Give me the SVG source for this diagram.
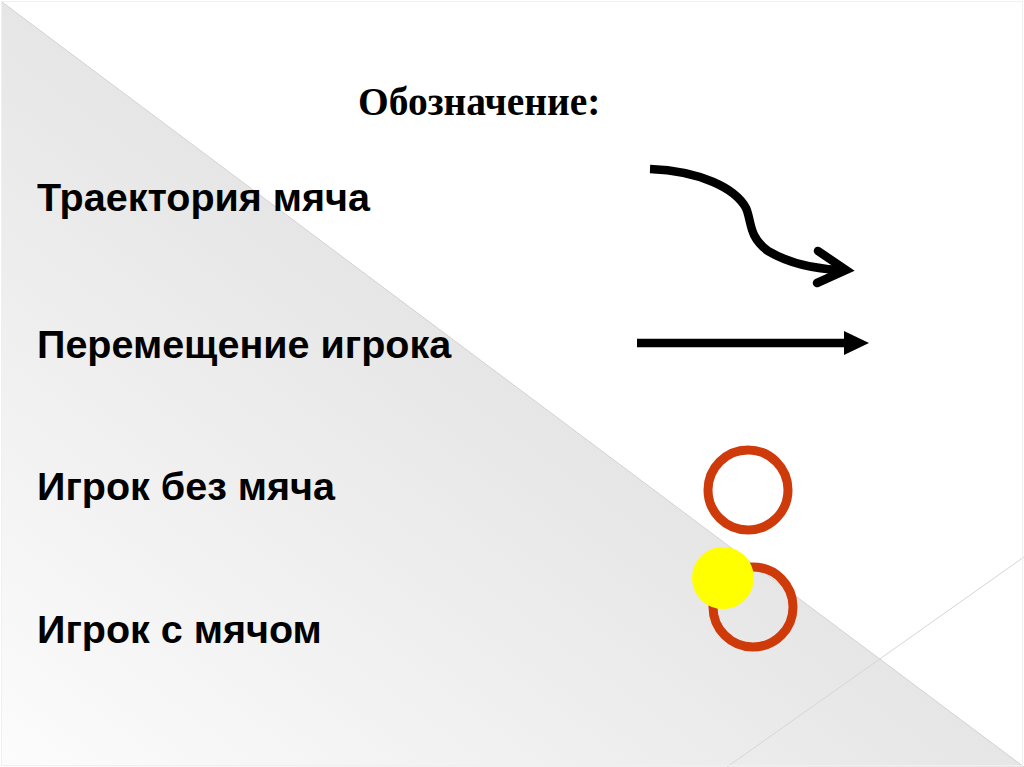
<svg xmlns="http://www.w3.org/2000/svg" width="1024" height="767" viewBox="0 0 1024 767">
  <defs>
    <linearGradient id="bg" gradientUnits="userSpaceOnUse" x1="0" y1="767" x2="368" y2="276">
      <stop offset="0" stop-color="#fcfcfc"/>
      <stop offset="1" stop-color="#e6e6e6"/>
    </linearGradient>
    <style>
      .lbl { font-family: "Liberation Sans", Arial, sans-serif; font-weight: bold; font-size: 39.5px; fill: #000; }
      .ttl { font-family: "Liberation Serif", "Times New Roman", serif; font-weight: bold; font-size: 39.5px; fill: #000; }
      .ring { fill: none; stroke: #cf3a0b; stroke-width: 9; }
      .conn { fill: none; stroke: #000; stroke-width: 8.5; }
    </style>
  </defs>
  <g id="background">
    <rect x="0" y="0" width="1024" height="767" fill="#ffffff"/>
    <polygon points="2,2 1024,767 2,767" fill="url(#bg)"/>
    <line x1="2" y1="2" x2="1024" y2="767" stroke="#d2d2d2" stroke-width="1"/>
    <line x1="727" y1="767" x2="1024" y2="557" stroke="#d6d6d6" stroke-width="1"/>
    <rect x="1.5" y="1.5" width="1021" height="764" fill="none" stroke="#f0f0f0" stroke-width="1"/>
  </g>
  <g id="title">
    <text class="ttl" x="358" y="115">Обозначение:</text>
  </g>
  <g id="label-trajectory">
    <text class="lbl" x="37" y="211">Траектория мяча</text>
  </g>
  <g id="label-movement">
    <text class="lbl" x="37" y="358">Перемещение игрока</text>
  </g>
  <g id="label-player">
    <text class="lbl" x="37" y="500">Игрок без мяча</text>
  </g>
  <g id="label-player-ball">
    <text class="lbl" x="37" y="643">Игрок с мячом</text>
  </g>
  <g id="connectors">
    <path class="conn" stroke-linecap="butt" d="M650,169 C700,171 735,188 746,208 C752,222 748,236 768,251 C790,264 815,269 842,270"/>
    <path class="conn" stroke-linecap="round" stroke-linejoin="miter" d="M818,251 L846,270 L817,283"/>
    <line class="conn" x1="637" y1="343" x2="846" y2="343"/>
    <polygon points="844,331 869,343 844,355" fill="#000"/>
  </g>
  <g id="player-no-ball">
    <circle class="ring" cx="748" cy="490" r="40"/>
  </g>
  <g id="player-with-ball">
    <circle class="ring" cx="753" cy="607" r="40"/>
    <circle cx="723" cy="578" r="31" fill="#ffff00"/>
  </g>
</svg>
